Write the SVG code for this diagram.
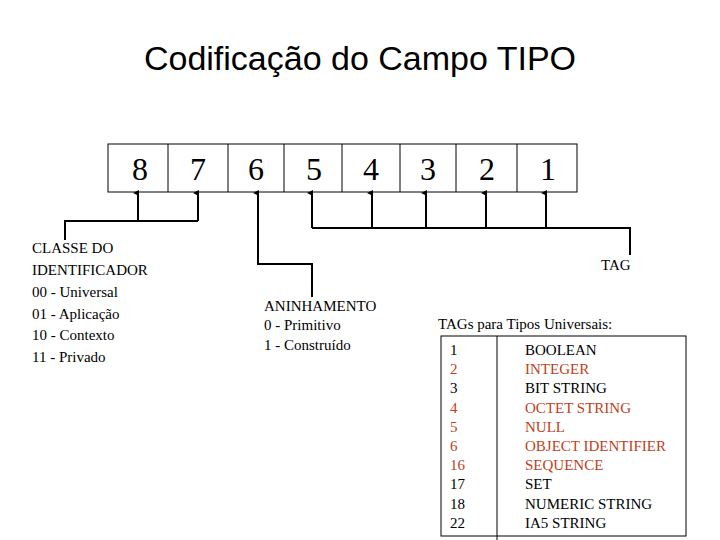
<svg xmlns="http://www.w3.org/2000/svg" width="720" height="540" viewBox="0 0 720 540">
<style>
.t,.t text{font-family:"Liberation Serif",serif;font-size:15px}
.t{fill:#000}
.t .r{fill:#c0401a}
.d{font-family:"Liberation Serif",serif;font-size:32px;text-anchor:middle}
.c{fill:none;stroke:#000;stroke-width:2}
</style>
<defs><marker id="a" markerWidth="6" markerHeight="6" refX="3" refY="5" orient="auto" markerUnits="userSpaceOnUse"><path d="M0,6 L3,0 L6,6z"/></marker></defs>
<rect width="720" height="540" fill="#fff"/>
<text x="360" y="70" text-anchor="middle" font-family="Liberation Sans,sans-serif" font-size="34">Codificação do Campo TIPO</text>
<g id="bits">
<rect x="108" y="144" width="469" height="48" fill="none" stroke="#000"/>
<path d="M168,144V192M228,144V192M284,144V192M342,144V192M400,144V192M456,144V192M517,144V192" stroke="#000"/>
<text class="d" x="140" y="180">8</text><text class="d" x="198" y="180">7</text><text class="d" x="256" y="180">6</text><text class="d" x="314" y="180">5</text><text class="d" x="371" y="180">4</text><text class="d" x="428" y="180">3</text><text class="d" x="487" y="180">2</text><text class="d" x="548" y="180">1</text>
</g>
<g id="connectors">
<path class="c" d="M65,240V221H198"/>
<path class="c" d="M138,221V193" marker-end="url(#a)"/>
<path class="c" d="M198,221V193" marker-end="url(#a)"/>
<path class="c" d="M312,297V264H258V193" marker-end="url(#a)"/>
<path class="c" d="M312,228H630V255"/>
<path class="c" d="M312,228V193" marker-end="url(#a)"/>
<path class="c" d="M372,228V193" marker-end="url(#a)"/>
<path class="c" d="M426,228V193" marker-end="url(#a)"/>
<path class="c" d="M486,228V193" marker-end="url(#a)"/>
<path class="c" d="M546,228V193" marker-end="url(#a)"/>
</g>
<g id="classe" class="t"><text x="32" y="253">CLASSE DO</text><text x="32" y="275">IDENTIFICADOR</text><text x="32" y="297">00 - Universal</text><text x="32" y="319">01 - Aplicação</text><text x="32" y="340">10 - Contexto</text><text x="32" y="362">11 - Privado</text></g>
<g id="aninh" class="t"><text x="264" y="311">ANINHAMENTO</text><text x="264" y="330">0 - Primitivo</text><text x="264" y="350">1 - Construído</text></g>
<g id="tag" class="t"><text x="601" y="270">TAG</text></g>
<g id="tabela" class="t">
<text x="438" y="329">TAGs para Tipos Universais:</text>
<rect x="441" y="336" width="245" height="200" fill="none" stroke="#000"/>
<path d="M497,336V540" stroke="#000"/>
<text x="450" y="355">1</text><text x="525" y="355">BOOLEAN</text>
<text class="r" x="450" y="374">2</text><text class="r" x="525" y="374">INTEGER</text>
<text x="450" y="393">3</text><text x="525" y="393">BIT STRING</text>
<text class="r" x="450" y="413">4</text><text class="r" x="525" y="413">OCTET STRING</text>
<text class="r" x="450" y="432">5</text><text class="r" x="525" y="432">NULL</text>
<text class="r" x="450" y="451">6</text><text class="r" x="525" y="451">OBJECT IDENTIFIER</text>
<text class="r" x="450" y="470">16</text><text class="r" x="525" y="470">SEQUENCE</text>
<text x="450" y="489">17</text><text x="525" y="489">SET</text>
<text x="450" y="509">18</text><text x="525" y="509">NUMERIC STRING</text>
<text x="450" y="528">22</text><text x="525" y="528">IA5 STRING</text>
</g>
</svg>
